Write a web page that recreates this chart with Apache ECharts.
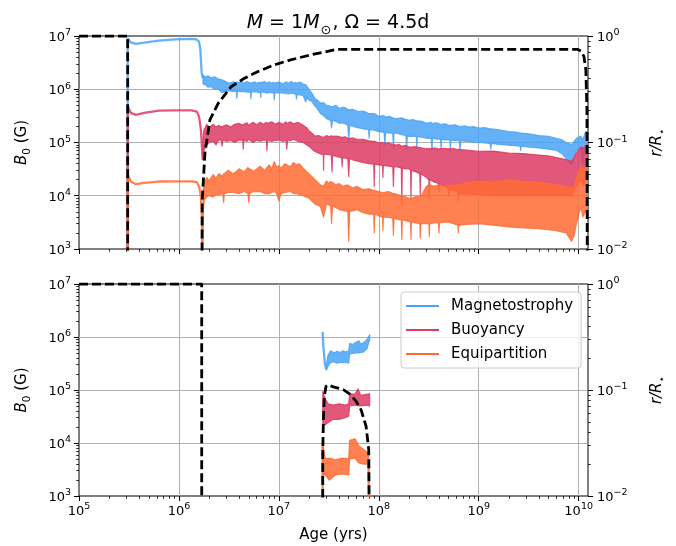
<!DOCTYPE html>
<html><head><meta charset="utf-8">
<script src="https://cdn.jsdelivr.net/npm/echarts@6/dist/echarts.min.js"></script>
<style>html,body{margin:0;padding:0;background:#fff}#c{width:676px;height:546px}</style>
</head><body><div id="c"></div>
<script>
// ---------------- DATA ----------------
const X_MIN = 1e5, X_MAX = 1.24e10;
const seriesNames = ['Magnetostrophy', 'Buoyancy', 'Equipartition'];

// Top panel: smooth early parts (age [yr], B0 [G])
const magEarlyAge = [3.07e5, 3.07e5, 3.3e5, 3.7e5, 4.5e5, 6.3e5, 9.2e5, 1.34e6, 1.51e6, 1.59e6, 1.64e6, 1.66e6, 1.69e6, 1.73e6];
const magEarlyB   = [1e2, 9.06e6, 7.6e6, 7.1e6, 7.5e6, 8.16e6, 8.67e6, 8.8e6, 8.6e6, 7.8e6, 5.5e6, 3.5e6, 2.0e6, 1.6e6];
const buoEarlyAge = [3.07e5, 3.07e5, 3.3e5, 3.7e5, 4.5e5, 6.3e5, 9.2e5, 1.34e6, 1.51e6, 1.59e6, 1.66e6, 1.70e6, 1.73e6];
const buoEarlyB   = [1e2, 4.72e5, 3.6e5, 3.3e5, 3.6e5, 3.97e5, 4.0e5, 4.0e5, 3.8e5, 3.06e5, 1.72e5, 8.3e4, 4.7e4];
const equEarlyAge = [3.07e5, 3.07e5, 3.3e5, 3.7e5, 4.5e5, 6.3e5, 9.2e5, 1.34e6, 1.51e6, 1.59e6, 1.66e6, 1.70e6, 1.72e6];
const equEarlyB   = [1e2, 2.47e4, 1.85e4, 1.65e4, 1.75e4, 1.85e4, 1.86e4, 1.86e4, 1.8e4, 1.49e4, 9.7e3, 3.5e3, 1e2];

// Top panel: noisy parts as [age, upper envelope, lower envelope]
const magTop = [
 [1.74e6,1.86e6,1.26e6],[1.85e6,1.7e6,1.2e6],[1.95e6,1.8e6,1.1e6],[2.1e6,1.62e6,1.12e6],
 [2.25e6,1.72e6,1.0e6],[2.5e6,1.55e6,1.0e6],[2.7e6,1.5e6,8.6e5],[2.9e6,1.41e6,9.1e5],
 [3.2e6,1.3e6,9.4e5],[3.5e6,1.38e6,9.0e5],[3.75e6,1.32e6,9.2e5],[3.8e6,1.38e6,6.8e5],
 [3.85e6,1.3e6,9.2e5],[4.2e6,1.42e6,9.0e5],[4.5e6,1.3e6,9.1e5],[4.8e6,1.4e6,8.8e5],
 [5.2e6,1.30e6,8.8e5],[5.25e6,1.32e6,6.6e5],[5.3e6,1.30e6,8.8e5],[5.7e6,1.38e6,9.0e5],
 [6.0e6,1.28e6,8.9e5],[6.3e6,1.36e6,8.6e5],[6.55e6,1.30e6,8.8e5],[6.6e6,1.35e6,7.0e5],
 [6.65e6,1.33e6,8.8e5],[7.2e6,1.4e6,8.8e5],[7.6e6,1.3e6,8.4e5],[8.0e6,1.38e6,8.7e5],
 [8.4e6,1.28e6,8.6e5],[8.9e6,1.36e6,8.5e5],[9.0e6,1.28e6,6.3e5],[9.1e6,1.30e6,8.5e5],
 [1.0e7,1.36e6,8.6e5],[1.1e7,1.26e6,8.5e5],[1.18e7,1.38e6,8.3e5],[1.25e7,1.3e6,8.2e5],
 [1.33e7,1.4e6,8.4e5],[1.4e7,1.3e6,8.3e5],[1.48e7,1.34e6,8.0e5],[1.5e7,1.28e6,6.5e5],
 [1.52e7,1.30e6,8.0e5],[1.62e7,1.36e6,7.8e5],[1.75e7,1.25e6,7.6e5],[1.85e7,1.22e6,5.8e5],
 [1.92e7,1.12e6,6.8e5],[2.0e7,1.0e6,6.3e5],[2.15e7,8.4e5,5.8e5],[2.3e7,6.6e5,4.8e5],
 [2.45e7,6.2e5,4.2e5],[2.6e7,5.5e5,3.5e5],[2.8e7,5.6e5,3.2e5],[3.0e7,5.0e5,2.8e5],
 [3.3e7,4.8e5,2.6e5],[3.37e7,4.7e5,1.9e5],[3.44e7,4.7e5,2.6e5],[3.7e7,5.0e5,2.5e5],
 [4.0e7,4.4e5,2.3e5],[4.5e7,4.6e5,2.3e5],[4.9e7,4.2e5,2.1e5],[5.0e7,4.1e5,1.05e5],
 [5.1e7,4.1e5,2.1e5],[5.5e7,4.2e5,2.0e5],[6.2e7,3.8e5,1.9e5],[7.0e7,3.9e5,1.8e5],
 [7.9e7,3.5e5,1.75e5],[8.0e7,3.5e5,1.2e5],[8.1e7,3.5e5,1.75e5],[9.0e7,3.5e5,1.7e5],
 [1.0e8,3.1e5,1.6e5],[1.13e8,3.2e5,1.55e5],[1.15e8,3.0e5,9.0e4],[1.17e8,3.0e5,1.55e5],
 [1.28e8,3.1e5,1.5e5],[1.38e8,2.9e5,1.5e5],[1.4e8,2.85e5,8.0e4],[1.42e8,2.85e5,1.5e5],
 [1.5e8,2.8e5,1.5e5],[1.7e8,2.9e5,1.4e5],[1.87e8,2.7e5,1.35e5],[1.9e8,2.7e5,7.5e4],
 [1.93e8,2.7e5,1.35e5],[2.0e8,2.6e5,1.3e5],[2.2e8,2.7e5,1.3e5],[2.37e8,2.55e5,1.3e5],
 [2.4e8,2.55e5,8.0e4],[2.43e8,2.55e5,1.3e5],[2.7e8,2.5e5,1.25e5],[3.0e8,2.3e5,1.2e5],
 [3.35e8,2.4e5,1.2e5],[3.4e8,2.3e5,7.0e4],[3.45e8,2.3e5,1.2e5],[3.8e8,2.35e5,1.15e5],
 [4.15e8,2.2e5,1.15e5],[4.2e8,2.2e5,7.5e4],[4.25e8,2.2e5,1.15e5],[4.6e8,2.25e5,1.12e5],
 [5.0e8,2.1e5,1.12e5],[5.15e8,2.1e5,1.1e5],[5.2e8,2.1e5,6.5e4],[5.25e8,2.1e5,1.1e5],
 [5.8e8,2.15e5,1.1e5],[6.4e8,2.0e5,1.08e5],[6.5e8,2.0e5,7.0e4],[6.6e8,2.0e5,1.08e5],
 [7.2e8,2.05e5,1.06e5],[8.0e8,1.95e5,1.05e5],[9.0e8,1.98e5,1.0e5],[1.0e9,1.86e5,1.0e5],
 [1.15e9,1.9e5,9.8e4],[1.3e9,1.8e5,9.6e4],[1.32e9,1.8e5,7.5e4],[1.34e9,1.8e5,9.6e4],
 [1.6e9,1.72e5,9.2e4],[2.0e9,1.6e5,8.9e4],[2.3e9,1.58e5,8.7e4],[2.6e9,1.5e5,8.5e4],
 [2.63e9,1.5e5,7.0e4],[2.66e9,1.5e5,8.5e4],[3.2e9,1.45e5,8.2e4],[4.0e9,1.35e5,7.9e4],
 [5.0e9,1.3e5,7.5e4],[6.0e9,1.2e5,7.1e4],[6.8e9,1.12e5,6.2e4],[7.5e9,1.0e5,5.0e4],
 [8.5e9,9.1e4,3.8e4],[9.5e9,1.2e5,7.1e4],[1.05e10,1.32e5,7.9e4],[1.1e10,1.12e5,4.0e4],
 [1.17e10,1.6e5,8.9e4],[1.24e10,1.6e5,1.0e5]
];
const buoTop = [
 [1.74e6,1.2e5,4.7e4],[1.78e6,1.74e5,7.1e4],[1.9e6,2.2e5,9.0e4],[2.0e6,1.9e5,1.0e5],
 [2.2e6,2.2e5,1.05e5],[2.35e6,1.95e5,9.0e4],[2.5e6,2.1e5,1.12e5],[2.65e6,1.95e5,1.1e5],
 [2.7e6,2.0e5,8.5e4],[2.75e6,2.0e5,1.1e5],[3.0e6,2.15e5,1.05e5],[3.3e6,1.95e5,1.1e5],
 [3.6e6,2.2e5,1.0e5],[4.0e6,2.3e5,1.12e5],[4.35e6,2.1e5,1.1e5],[4.4e6,2.2e5,7.5e4],
 [4.45e6,2.2e5,1.1e5],[4.8e6,2.35e5,1.05e5],[5.0e6,2.1e5,1.15e5],[5.5e6,2.4e5,1.0e5],
 [6.0e6,2.15e5,1.1e5],[6.5e6,2.4e5,1.05e5],[7.0e6,2.2e5,1.12e5],[7.5e6,2.4e5,1.1e5],
 [7.6e6,2.3e5,7.0e4],[7.7e6,2.3e5,1.1e5],[8.5e6,2.45e5,1.05e5],[9.2e6,2.2e5,1.1e5],
 [1.0e7,2.4e5,1.12e5],[1.1e7,2.2e5,1.05e5],[1.18e7,2.45e5,1.1e5],[1.2e7,2.3e5,7.5e4],
 [1.22e7,2.3e5,1.1e5],[1.3e7,2.45e5,1.08e5],[1.4e7,2.25e5,1.15e5],[1.55e7,2.4e5,1.05e5],
 [1.75e7,2.1e5,1.0e5],[1.9e7,1.9e5,9.0e4],[2.0e7,1.66e5,8.5e4],[2.15e7,1.5e5,7.5e4],
 [2.3e7,1.32e5,6.8e4],[2.5e7,1.35e5,6.3e4],[2.7e7,1.26e5,6.0e4],[2.78e7,1.26e5,6.0e4],
 [2.8e7,1.26e5,3.0e4],[2.82e7,1.26e5,6.0e4],[3.0e7,1.35e5,6.0e4],[3.2e7,1.28e5,5.9e4],
 [3.35e7,1.34e5,5.8e4],[3.4e7,1.3e5,2.8e4],[3.45e7,1.3e5,5.8e4],[3.8e7,1.32e5,5.4e4],
 [4.25e7,1.25e5,5.2e4],[4.3e7,1.25e5,3.5e4],[4.35e7,1.25e5,5.2e4],[4.6e7,1.28e5,5.1e4],
 [4.9e7,1.2e5,5.0e4],[5.0e7,1.2e5,2.3e4],[5.1e7,1.2e5,5.0e4],[5.5e7,1.22e5,4.7e4],
 [6.0e7,1.15e5,4.5e4],[7.0e7,1.15e5,4.2e4],[8.0e7,1.07e5,4.0e4],[8.9e7,1.05e5,3.9e4],
 [9.0e7,1.05e5,1.5e4],[9.1e7,1.05e5,3.9e4],[1.0e8,9.8e4,3.8e4],[1.09e8,1.0e5,3.7e4],
 [1.1e8,9.6e4,2.2e4],[1.11e8,9.6e4,3.7e4],[1.25e8,9.8e4,3.6e4],[1.38e8,9.2e4,3.5e4],
 [1.4e8,9.2e4,1.5e4],[1.42e8,9.2e4,3.5e4],[1.5e8,8.9e4,3.5e4],[1.6e8,9.2e4,3.4e4],
 [1.68e8,8.6e4,3.3e4],[1.7e8,8.6e4,6.5e3],[1.72e8,8.6e4,3.3e4],[1.85e8,8.8e4,3.2e4],
 [2.0e8,8.3e4,3.2e4],[2.08e8,8.2e4,3.0e4],[2.1e8,8.2e4,8.0e3],[2.12e8,8.2e4,3.0e4],
 [2.35e8,8.4e4,2.8e4],[2.57e8,8.0e4,2.6e4],[2.6e8,8.0e4,1.0e4],[2.63e8,8.0e4,2.6e4],
 [2.8e8,7.8e4,2.4e4],[3.0e8,7.6e4,2.2e4],[3.17e8,7.8e4,2.0e4],[3.2e8,7.6e4,9.0e3],
 [3.23e8,7.6e4,2.0e4],[3.6e8,7.9e4,1.8e4],[3.95e8,7.6e4,1.7e4],[4.0e8,7.6e4,1.2e4],
 [4.05e8,7.6e4,1.7e4],[4.5e8,7.8e4,1.5e4],[4.95e8,7.6e4,1.4e4],[5.0e8,7.6e4,1.0e4],
 [5.05e8,7.6e4,1.3e4],[5.6e8,7.7e4,1.25e4],[6.15e8,7.4e4,1.2e4],[6.2e8,7.4e4,8.0e3],
 [6.25e8,7.4e4,1.1e4],[7.5e8,7.2e4,1.08e4],[1.0e9,6.8e4,1.05e4],[1.4e9,6.9e4,1.0e4],
 [2.0e9,6.3e4,1.0e4],[2.8e9,6.2e4,1.0e4],[4.0e9,5.8e4,1.0e4],[5.0e9,5.6e4,1.0e4],
 [6.0e9,5.2e4,1.0e4],[7.5e9,4.8e4,1.0e4],[8.5e9,4.4e4,1.0e4],[9.5e9,6.3e4,1.5e4],
 [1.05e10,8.3e4,2.0e4],[1.12e10,7.9e4,1.5e4],[1.2e10,8.9e4,2.5e4],[1.24e10,8.9e4,3.2e4]
];
const equTop = [
 [1.73e6,2.0e3,8e2],[1.76e6,1.6e4,6.0e3],[1.8e6,1.8e4,8.5e3],[1.9e6,2.2e4,9.5e3],
 [2.0e6,1.9e4,1.0e4],[2.2e6,2.5e4,9.5e3],[2.35e6,2.1e4,1.05e4],[2.5e6,2.6e4,1.05e4],
 [2.75e6,2.3e4,1.1e4],[2.8e6,2.6e4,7.5e3],[2.85e6,2.6e4,1.1e4],[3.1e6,3.0e4,1.15e4],
 [3.5e6,2.6e4,1.15e4],[4.0e6,3.2e4,1.1e4],[4.5e6,2.8e4,1.2e4],[4.9e6,3.4e4,1.1e4],
 [5.0e6,3.2e4,7.5e3],[5.1e6,3.2e4,1.1e4],[5.6e6,2.9e4,1.2e4],[6.5e6,3.6e4,1.2e4],
 [7.2e6,3.0e4,1.1e4],[8.0e6,3.8e4,1.1e4],[8.5e6,3.2e4,1.15e4],[9.0e6,4.4e4,1.2e4],
 [9.5e6,3.4e4,1.1e4],[1.0e7,3.7e4,8.0e3],[1.05e7,3.3e4,1.1e4],[1.15e7,4.0e4,1.15e4],
 [1.3e7,3.5e4,1.2e4],[1.4e7,4.2e4,1.1e4],[1.5e7,3.8e4,1.1e4],[1.6e7,4.0e4,1.05e4],
 [1.75e7,3.3e4,1.0e4],[2.0e7,2.6e4,9.0e3],[2.3e7,2.0e4,7.0e3],[2.6e7,1.6e4,6.3e3],
 [2.8e7,1.5e4,4.0e3],[3.0e7,1.9e4,7.0e3],[3.15e7,1.7e4,6.8e3],[3.3e7,1.85e4,6.5e3],
 [3.37e7,1.8e4,3.0e3],[3.44e7,1.8e4,6.5e3],[3.7e7,1.6e4,6.0e3],[4.0e7,1.7e4,5.5e3],
 [4.4e7,1.5e4,5.3e3],[4.9e7,1.6e4,5.0e3],[5.0e7,1.5e4,1.4e3],[5.1e7,1.5e4,5.0e3],
 [5.5e7,1.4e4,5.2e3],[6.0e7,1.5e4,5.5e3],[7.0e7,1.3e4,4.8e3],[8.0e7,1.35e4,4.5e3],
 [8.9e7,1.25e4,4.5e3],[9.0e7,1.25e4,2.0e3],[9.1e7,1.25e4,4.5e3],[1.0e8,1.2e4,4.2e3],
 [1.09e8,1.15e4,4.0e3],[1.1e8,1.15e4,2.2e3],[1.11e8,1.15e4,4.0e3],[1.25e8,1.2e4,3.9e3],
 [1.38e8,1.1e4,3.8e3],[1.4e8,1.1e4,1.8e3],[1.42e8,1.1e4,3.8e3],[1.55e8,1.05e4,3.6e3],
 [1.68e8,1.0e4,3.5e3],[1.7e8,1.0e4,1.5e3],[1.72e8,1.0e4,3.5e3],[1.85e8,9.6e3,3.4e3],
 [2.0e8,9.0e3,3.3e3],[2.08e8,8.8e3,3.2e3],[2.1e8,8.8e3,1.5e3],[2.12e8,8.8e3,3.2e3],
 [2.35e8,9.8e3,3.1e3],[2.57e8,9.5e3,3.0e3],[2.6e8,9.5e3,1.6e3],[2.63e8,9.5e3,3.0e3],
 [2.8e8,1.2e4,3.0e3],[3.0e8,1.5e4,3.0e3],[3.17e8,1.6e4,3.0e3],[3.2e8,1.6e4,1.7e3],
 [3.23e8,1.6e4,3.0e3],[3.6e8,1.5e4,3.1e3],[3.95e8,1.6e4,3.1e3],[4.0e8,1.6e4,2.0e3],
 [4.05e8,1.6e4,3.1e3],[4.5e8,1.5e4,3.2e3],[5.0e8,1.6e4,3.2e3],[5.6e8,1.55e4,3.0e3],
 [6.2e8,1.6e4,2.8e3],[6.25e8,1.6e4,2.0e3],[6.3e8,1.6e4,2.8e3],[7.5e8,1.75e4,2.9e3],
 [1.0e9,1.9e4,3.0e3],[1.4e9,1.8e4,2.8e3],[2.0e9,2.0e4,2.6e3],[2.8e9,1.85e4,2.5e3],
 [4.0e9,1.8e4,2.4e3],[5.0e9,1.7e4,2.3e3],[6.0e9,1.6e4,2.2e3],[7.5e9,1.5e4,2.0e3],
 [8.5e9,1.4e4,1.4e3],[9.0e9,1.4e4,1.8e3],[9.5e9,2.2e4,3.0e3],[1.05e10,3.5e4,6.3e3],
 [1.1e10,3.0e4,4.0e3],[1.17e10,3.5e4,5.0e3],[1.24e10,3.5e4,5.0e3]
];

// Bottom panel
const magBotLineAge = [2.74e7, 2.79e7, 2.88e7, 2.98e7];
const magBotLineB   = [1.25e6, 6.6e5, 3.2e5, 2.4e5];
const magBot = [
 [3.0e7,3.2e5,2.4e5],[3.1e7,4.5e5,2.8e5],[3.3e7,5.5e5,3.3e5],[3.6e7,5.0e5,3.4e5],
 [3.8e7,5.4e5,3.2e5],[4.1e7,5.1e5,3.3e5],[4.4e7,5.5e5,3.3e5],[4.7e7,5.2e5,3.3e5],
 [5.0e7,5.5e5,3.2e5],[5.1e7,7.6e5,4.8e5],[5.5e7,7.2e5,4.9e5],[5.8e7,7.8e5,5.0e5],
 [6.3e7,8.5e5,5.0e5],[6.6e7,7.4e5,5.1e5],[7.0e7,7.8e5,5.2e5],[7.6e7,8.9e5,6.0e5],
 [8.1e7,1.1e6,8.9e5]
];
const buoBot = [
 [2.75e7,9.3e4,2.2e4],[2.9e7,7.0e4,2.2e4],[3.1e7,5.5e4,2.4e4],[3.5e7,5.2e4,2.8e4],
 [4.0e7,5.5e4,2.8e4],[4.6e7,5.2e4,3.0e4],[5.0e7,5.5e4,3.2e4],[5.1e7,8.3e4,5.0e4],
 [5.8e7,8.5e4,5.2e4],[6.2e7,1.05e5,5.0e4],[6.6e7,7.9e4,5.0e4],[7.5e7,8.3e4,5.2e4],
 [8.1e7,8.5e4,5.0e4]
];
const equBotStartAge = [2.74e7, 2.74e7];
const equBotStartB   = [1e2, 1.0e4];
const equBotEndAge   = [7.9e7, 7.95e7];
const equBotEndB     = [4.0e3, 1e2];
const equBot = [
 [2.75e7,1.0e4,2.5e3],[2.9e7,5.0e3,2.5e3],[3.2e7,5.2e3,2.0e3],[3.7e7,4.8e3,2.5e3],
 [4.3e7,5.2e3,2.6e3],[5.0e7,5.0e3,2.5e3],[5.1e7,1.12e4,5.0e3],[5.8e7,1.2e4,5.2e3],
 [6.3e7,8.9e3,4.2e3],[7.0e7,7.6e3,4.0e3],[7.7e7,6.6e3,4.0e3],[7.9e7,6.3e3,3.2e3]
];

// r / R_star (right axis), dashed black
const rTopA = [[1e5,1],[3.07e5,1],[3.07e5,1e-3]];
const rTopB = [[1.69e6,1e-3],[1.71e6,0.0288],[1.82e6,0.079],[2.04e6,0.163],[2.47e6,0.233],[3.33e6,0.334],
  [4.52e6,0.401],[6.12e6,0.462],[8.93e6,0.535],[1.31e7,0.596],[2.06e7,0.664],[3.0e7,0.715],[3.8e7,0.75],
  [9.7e9,0.75],[1.06e10,0.72],[1.13e10,0.64],[1.18e10,0.48],[1.21e10,0.2],[1.225e10,1e-3]];
const rBotA = [[1e5,1],[1.69e6,1],[1.69e6,1e-3]];
const rBotB = [[2.74e7,1e-3],[2.75e7,0.0255],[2.79e7,0.0526],[2.85e7,0.087],[2.96e7,0.108],[3.13e7,0.112],
  [3.5e7,0.107],[4.4e7,0.101],[5.1e7,0.092],[5.94e7,0.078],[6.65e7,0.065],[7.46e7,0.0455],[7.93e7,0.0274],[8.17e7,1e-3]];

// ---------------- STYLE ----------------
const FONT = 'DejaVu Sans';
const C_MAG = '#4aa3f7', C_BUO = '#dc3b63', C_EQU = '#ff6b33';
const OPA = 0.85;

function decades(a, b) { const r = []; for (let e = a; e <= b; e++) r.push(Math.pow(10, e)); return r; }
function minors(a, b, max) { const r = []; for (let e = a; e <= b; e++) for (let k = 2; k <= 9; k++) { const v = k * Math.pow(10, e); if (v <= max) r.push(v); } return r; }
const xMajor = decades(5, 10), xMinor = minors(5, 9, X_MAX), xSplit = decades(6, 10);
const bMajor = decades(3, 7), bMinor = minors(3, 6, 1e7), bSplit = decades(4, 6);
const rMajor = decades(-2, 0), rMinor = minors(-2, -1, 1);

function supLabel(v) {
  const e = Math.round(Math.log10(v));
  return '{b|10}{s|' + (e < 0 ? '\u2212' + (-e) : e) + '}';
}
const RICH = {
  b: { fontFamily: FONT, fontSize: 13, color: '#000', verticalAlign: 'bottom' },
  s: { fontFamily: FONT, fontSize: 9.5, color: '#000', verticalAlign: 'bottom', padding: [0, 0, 6, 0] }
};
function baseLog(extra) {
  return Object.assign({
    type: 'log', logBase: 10,
    axisLine: { show: false }, axisLabel: { show: false }, axisTick: { show: false },
    splitLine: { show: false }, minorTick: { show: false }, minorSplitLine: { show: false }
  }, extra);
}
function xAxes(g) {
  const common = { gridIndex: g, position: 'bottom', min: X_MIN, max: X_MAX };
  return [
    baseLog(Object.assign({}, common, {
      axisTick: { show: true, length: 5, lineStyle: { color: '#000', width: 1 }, customValues: xMajor },
      axisLabel: { show: g === 1, customValues: xMajor, formatter: supLabel, margin: 6, rich: RICH },
      name: g === 1 ? 'Age (yrs)' : '', nameLocation: 'middle', nameGap: 32,
      nameTextStyle: { fontFamily: FONT, fontSize: 15, color: '#000' }
    })),
    baseLog(Object.assign({}, common, {
      axisTick: { show: true, length: 2.8, lineStyle: { color: '#000', width: 0.8 }, customValues: xMinor }
    })),
    baseLog(Object.assign({}, common, {
      axisTick: { show: false, customValues: xSplit },
      splitLine: { show: true, lineStyle: { color: '#b0b0b0', width: 1 } }
    }))
  ];
}
const NAME_RICH = {
  i: { fontFamily: FONT, fontSize: 15, fontStyle: 'italic', color: '#000', verticalAlign: 'bottom', padding: [0, 0, 3, 0] },
  n: { fontFamily: FONT, fontSize: 15, color: '#000', verticalAlign: 'bottom', padding: [0, 0, 3, 0] },
  s: { fontFamily: FONT, fontSize: 10.5, color: '#000', verticalAlign: 'bottom' }
};
function yAxes(g) {
  const cb = { gridIndex: g, position: 'left', min: 1e3, max: 1e7 };
  const cr = { gridIndex: g, position: 'right', min: 1e-2, max: 1 };
  return [
    baseLog(Object.assign({}, cb, {
      axisTick: { show: true, length: 5, lineStyle: { color: '#000', width: 1 }, customValues: bMajor },
      axisLabel: { show: true, customValues: bMajor, formatter: supLabel, margin: 8, rich: RICH },
      name: '{i|B}{s|0}{n| (G)}', nameLocation: 'middle', nameRotate: 90, nameGap: 46,
      nameTextStyle: { fontFamily: FONT, fontSize: 15, color: '#000', rich: NAME_RICH }
    })),
    baseLog(Object.assign({}, cb, {
      axisTick: { show: true, length: 2.8, lineStyle: { color: '#000', width: 0.8 }, customValues: bMinor }
    })),
    baseLog(Object.assign({}, cb, {
      axisTick: { show: false, customValues: bSplit },
      splitLine: { show: true, lineStyle: { color: '#b0b0b0', width: 1 } }
    })),
    baseLog(Object.assign({}, cr, {
      axisTick: { show: true, length: 5, lineStyle: { color: '#000', width: 1 }, customValues: rMajor },
      axisLabel: { show: true, customValues: rMajor, formatter: supLabel, margin: 9, rich: RICH },
      name: '{i|r/R}{s|\u22c6}', nameLocation: 'middle', nameRotate: 90, nameGap: 62,
      nameTextStyle: { fontFamily: FONT, fontSize: 15, color: '#000', rich: NAME_RICH }
    })),
    baseLog(Object.assign({}, cr, {
      axisTick: { show: true, length: 2.8, lineStyle: { color: '#000', width: 0.8 }, customValues: rMinor }
    }))
  ];
}
// axis indices: x top main 0, bottom main 3; y top B 0, top r 3, bottom B 5, bottom r 8

function zip(a, b) { return a.map((v, i) => [v, b[i]]); }
function lineS(name, data, color, xi, yi) {
  return { type: 'line', name: name, data: data, xAxisIndex: xi, yAxisIndex: yi, symbol: 'none', clip: true,
    silent: true, lineStyle: { color: color, width: 2.3, opacity: OPA }, itemStyle: { color: color }, z: 2 };
}
function bandS(name, rows, color, xi, yi) {
  return {
    type: 'custom', name: name, xAxisIndex: xi, yAxisIndex: yi, clip: true, silent: true, z: 2,
    data: rows, encode: { x: 0, y: [1, 2] }, itemStyle: { color: color },
    renderItem: function (params, api) {
      if (params.dataIndex !== 0) return null;
      const top = rows.map(r => api.coord([r[0], r[1]]));
      const bot = rows.map(r => api.coord([r[0], r[2]])).reverse();
      return { type: 'polygon', shape: { points: top.concat(bot) },
        style: { fill: color, stroke: color, lineWidth: 1.2, opacity: OPA, lineJoin: 'round' } };
    }
  };
}
function dashS(data, xi, yi) {
  return { type: 'line', data: data, xAxisIndex: xi, yAxisIndex: yi, symbol: 'none', clip: true, silent: true,
    lineStyle: { color: '#000', width: 2.8, type: [9, 4] }, z: 5 };
}

const option = {
  animation: false,
  backgroundColor: '#fff',
  textStyle: { fontFamily: FONT },
  title: {
    text: '{i|M}{n| = 1}{i|M}{s|\u2299}{n|, \u03a9 = 4.5d}',
    left: 'center', top: 9,
    textStyle: {
      fontFamily: FONT, fontSize: 19, fontWeight: 'normal', color: '#000',
      rich: {
        i: { fontFamily: FONT, fontSize: 19, fontStyle: 'italic', color: '#000', verticalAlign: 'bottom', padding: [0, 0, 4, 0] },
        n: { fontFamily: FONT, fontSize: 19, color: '#000', verticalAlign: 'bottom', padding: [0, 0, 4, 0] },
        s: { fontFamily: FONT, fontSize: 13, color: '#000', verticalAlign: 'bottom', padding: [0, 1, 0, 1] }
      }
    }
  },
  legend: {
    orient: 'vertical', left: 401, top: 292,
    data: seriesNames.map(n => ({ name: n, icon: 'rect' })),
    itemWidth: 33, itemHeight: 2.2, itemGap: 8, padding: [6, 8, 6, 5],
    backgroundColor: 'rgba(255,255,255,0.8)', borderColor: '#cccccc', borderWidth: 1, borderRadius: 3,
    selectedMode: false,
    textStyle: { fontFamily: FONT, fontSize: 15, color: '#000', lineHeight: 16, padding: [0, 0, 0, 7] }
  },
  grid: [
    { left: 79, top: 36, width: 515, height: 213, show: true, borderColor: '#000', borderWidth: 1, backgroundColor: 'transparent' },
    { left: 79, top: 284, width: 515, height: 212, show: true, borderColor: '#000', borderWidth: 1, backgroundColor: 'transparent' }
  ],
  xAxis: xAxes(0).concat(xAxes(1)),
  yAxis: yAxes(0).concat(yAxes(1)),
  series: [
    lineS(seriesNames[0], zip(magEarlyAge, magEarlyB), C_MAG, 0, 0),
    bandS(seriesNames[0], magTop, C_MAG, 0, 0),
    lineS(seriesNames[1], zip(buoEarlyAge, buoEarlyB), C_BUO, 0, 0),
    bandS(seriesNames[1], buoTop, C_BUO, 0, 0),
    lineS(seriesNames[2], zip(equEarlyAge, equEarlyB), C_EQU, 0, 0),
    bandS(seriesNames[2], equTop, C_EQU, 0, 0),
    dashS(rTopA, 0, 3),
    dashS(rTopB, 0, 3),
    lineS(seriesNames[0], zip(magBotLineAge, magBotLineB), C_MAG, 3, 5),
    bandS(seriesNames[0], magBot, C_MAG, 3, 5),
    bandS(seriesNames[1], buoBot, C_BUO, 3, 5),
    lineS(seriesNames[2], zip(equBotStartAge, equBotStartB), C_EQU, 3, 5),
    bandS(seriesNames[2], equBot, C_EQU, 3, 5),
    lineS(seriesNames[2], zip(equBotEndAge, equBotEndB), C_EQU, 3, 5),
    dashS(rBotA, 3, 8),
    dashS(rBotB, 3, 8)
  ]
};
const chart = echarts.init(document.getElementById('c'), null, { renderer: 'canvas' });
chart.setOption(option);
</script></body></html>
